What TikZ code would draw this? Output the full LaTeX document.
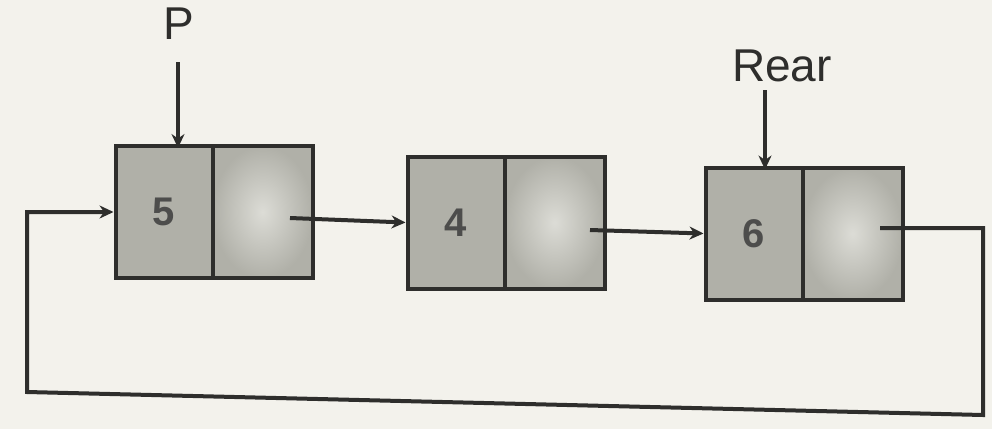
\documentclass[tikz,border=0pt]{standalone}
\usepackage{fontspec}
\setmainfont{Liberation Sans}
\usetikzlibrary{arrows.meta}
\definecolor{bg}{HTML}{F3F2EC}
\definecolor{ink}{HTML}{2E2E2C}
\definecolor{cellA}{HTML}{B0B0A8}
\definecolor{cellB}{HTML}{DCDCD6}
\begin{document}
\begin{tikzpicture}[x=1pt,y=-1pt,
  datacell/.style={draw=ink,line width=4pt,outer sep=0pt,fill=cellA,minimum width=97pt,minimum height=132pt,inner sep=0pt,font=\fontsize{40}{40}\selectfont\bfseries,text=ink!85},
  linkcell/.style={draw=ink,line width=4pt,outer sep=0pt,inner color=cellB,outer color=cellA,minimum width=100pt,minimum height=132pt,inner sep=0pt,anchor=west},
  lbl/.style={font=\fontsize{46}{46}\selectfont,text=ink,inner sep=0pt},
  link/.style={draw=ink,line width=4pt,-{Stealth[length=14pt,width=13pt]}}]
\fill[bg] (0,0) rectangle (992,429);
\useasboundingbox (0,0) rectangle (992,429);
% nodes
\node[datacell] (n1a) at (164,212) {5};
\node[linkcell] (n1b) at (n1a.east) {};
\node[datacell] (n2a) at (456,222.5) {4};
\node[linkcell] (n2b) at (n2a.east) {};
\node[datacell] (n3a) at (754,233.5) {6};
\node[linkcell] (n3b) at (n3a.east) {};
% labels
\node[lbl] (p) at (179,24) {P};
\node[lbl] (rear) at (782,66) {Rear};
\coordinate (pt) at (178,62);
\coordinate (rt) at (765,90);
\draw[link] (pt) -- ([yshift=-2pt]n1a.north -| pt);
\draw[link] (rt) -- ([yshift=-2pt]n3a.north -| rt);
% links
\coordinate (s1) at (290,218);
\coordinate (s2) at (590,230);
\coordinate (s3) at (880,228);
\draw[link] (s1) -- ([xshift=-2pt]n2a.west);
\draw[link] (s2) -- ([xshift=-2pt]n3a.west);
\coordinate (c1) at (983,228);
\coordinate (c2) at (983,415);
\coordinate (c3) at (27,392);
\coordinate (c4) at (27,212);
\draw[link] (s3) -- (c1) -- (c2) -- (c3) -- (c4) -- ([xshift=-2pt]n1a.west);
\end{tikzpicture}
\end{document}
